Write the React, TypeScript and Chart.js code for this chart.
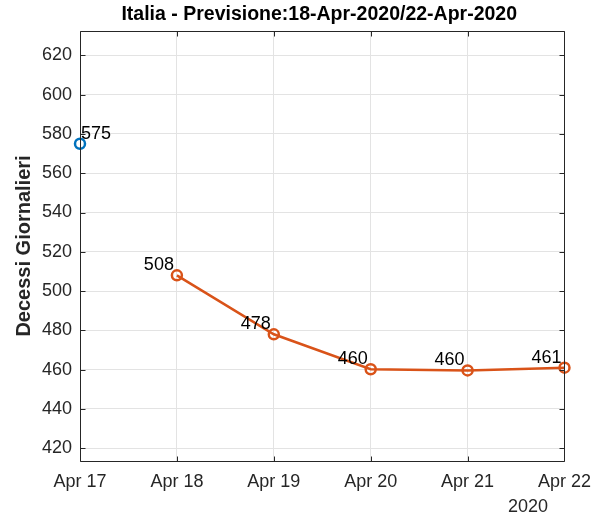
import React, { useEffect, useRef } from "react";
import { Chart, registerables } from "chart.js";

Chart.register(...registerables);

const categories = ["Apr 17", "Apr 18", "Apr 19", "Apr 20", "Apr 21", "Apr 22"];
const observed = [575, null, null, null, null, null];
const forecast = [null, 508, 478, 460.2, 459.6, 461.0];
const yTicks = [420, 440, 460, 480, 500, 520, 540, 560, 580, 600, 620];
const yMin = 413.5;
const yMax = 632.4;
const titleText = "Italia - Previsione:18-Apr-2020/22-Apr-2020";
const yLabel = "Decessi Giornalieri";
const yearLabel = "2020";

const FONT = "'Liberation Sans', Arial, Helvetica, sans-serif";
const AXIS_COLOR = "#262626";

const framePlugin = {
  id: "matlabFrame",
  afterDraw(chart: any) {
    const ctx = chart.ctx;
    const { left, right, top, bottom } = chart.chartArea;
    const xs = chart.scales.x;
    const ys = chart.scales.y;
    ctx.save();
    // box
    ctx.strokeStyle = AXIS_COLOR;
    ctx.lineWidth = 1;
    const L = Math.round(left) + 0.5;
    const R = Math.round(right) + 0.5;
    const T = Math.round(top) + 0.5;
    const B = Math.round(bottom) + 0.5;
    ctx.beginPath();
    ctx.rect(L, T, R - L, B - T);
    ctx.stroke();
    // ticks inward
    const tl = 5;
    ctx.beginPath();
    for (let i = 0; i < categories.length; i++) {
      const px = Math.round(xs.getPixelForValue(i)) + 0.5;
      ctx.moveTo(px, B);
      ctx.lineTo(px, B - tl);
      ctx.moveTo(px, T);
      ctx.lineTo(px, T + tl);
    }
    for (const v of yTicks) {
      const py = Math.round(ys.getPixelForValue(v)) + 0.5;
      ctx.moveTo(L, py);
      ctx.lineTo(L + tl, py);
      ctx.moveTo(R, py);
      ctx.lineTo(R - tl, py);
    }
    ctx.stroke();

    // title
    ctx.fillStyle = "#000";
    ctx.font = `bold 19.5px ${FONT}`;
    ctx.textAlign = "center";
    ctx.textBaseline = "middle";
    ctx.fillText(titleText, (left + right) / 2 - 3, 15);

    // y label
    ctx.save();
    ctx.translate(24, (top + bottom) / 2);
    ctx.rotate(-Math.PI / 2);
    ctx.fillStyle = AXIS_COLOR;
    ctx.font = `bold 20px ${FONT}`;
    ctx.fillText(yLabel, 0, 0);
    ctx.restore();

    // year label
    ctx.fillStyle = AXIS_COLOR;
    ctx.font = `18px ${FONT}`;
    ctx.fillText(yearLabel, 528, 507);

    // data labels
    ctx.fillStyle = "#000";
    ctx.font = `18px ${FONT}`;
    const drawLabels = (data: (number | null)[], align: "left" | "right", dx: number) => {
      data.forEach((v, i) => {
        if (v === null) return;
        const px = xs.getPixelForValue(i);
        const py = ys.getPixelForValue(v);
        ctx.textAlign = align;
        ctx.fillText(String(Math.round(v)), px + dx, py - 10);
      });
    };
    drawLabels(observed, "left", 1);
    drawLabels(forecast, "right", -3);
    ctx.restore();
  },
};

export default function App() {
  const ref = useRef<HTMLCanvasElement | null>(null);
  useEffect(() => {
    if (!ref.current) return;
    const chart = new Chart(ref.current, {
      type: "line",
      data: {
        labels: categories,
        datasets: [
          {
            data: observed,
            borderColor: "#0072BD",
            backgroundColor: "rgba(0,0,0,0)",
            pointBorderColor: "#0072BD",
            pointBackgroundColor: "rgba(0,0,0,0)",
            pointRadius: 5,
            pointBorderWidth: 2.5,
            borderWidth: 2.5,
            showLine: false,
          },
          {
            data: forecast,
            borderColor: "#D95319",
            backgroundColor: "rgba(0,0,0,0)",
            pointBorderColor: "#D95319",
            pointBackgroundColor: "rgba(0,0,0,0)",
            pointRadius: 5,
            pointBorderWidth: 2.5,
            borderWidth: 2.5,
            tension: 0,
          },
        ],
      },
      options: {
        animation: false,
        responsive: false,
        layout: { padding: { left: 0, top: 31, right: 35, bottom: 0 } },
        plugins: {
          legend: { display: false },
          title: { display: false },
          tooltip: { enabled: false },
        },
        scales: {
          x: {
            type: "category",
            offset: false,
            border: { display: false },
            grid: { color: "#e3e3e3", drawTicks: false, lineWidth: 1 },
            ticks: {
              color: AXIS_COLOR,
              font: { family: FONT, size: 18 },
              padding: 10,
              maxRotation: 0,
              autoSkip: false,
            },
            afterFit: (s: any) => {
              s.height = 58;
            },
          },
          y: {
            type: "linear",
            min: yMin,
            max: yMax,
            border: { display: false },
            grid: { color: "#e3e3e3", drawTicks: false, lineWidth: 1 },
            ticks: {
              color: AXIS_COLOR,
              font: { family: FONT, size: 18 },
              padding: 8,
            },
            afterBuildTicks: (s: any) => {
              s.ticks = yTicks.map((v) => ({ value: v }));
            },
            afterFit: (s: any) => {
              s.width = 80;
            },
          },
        },
      },
      plugins: [framePlugin],
    });
    return () => chart.destroy();
  }, []);
  return (
    <div style={{ position: "fixed", left: 0, top: 0, width: 601, height: 519, background: "#fff" }}>
      <canvas ref={ref} width={601} height={519} />
    </div>
  );
}
